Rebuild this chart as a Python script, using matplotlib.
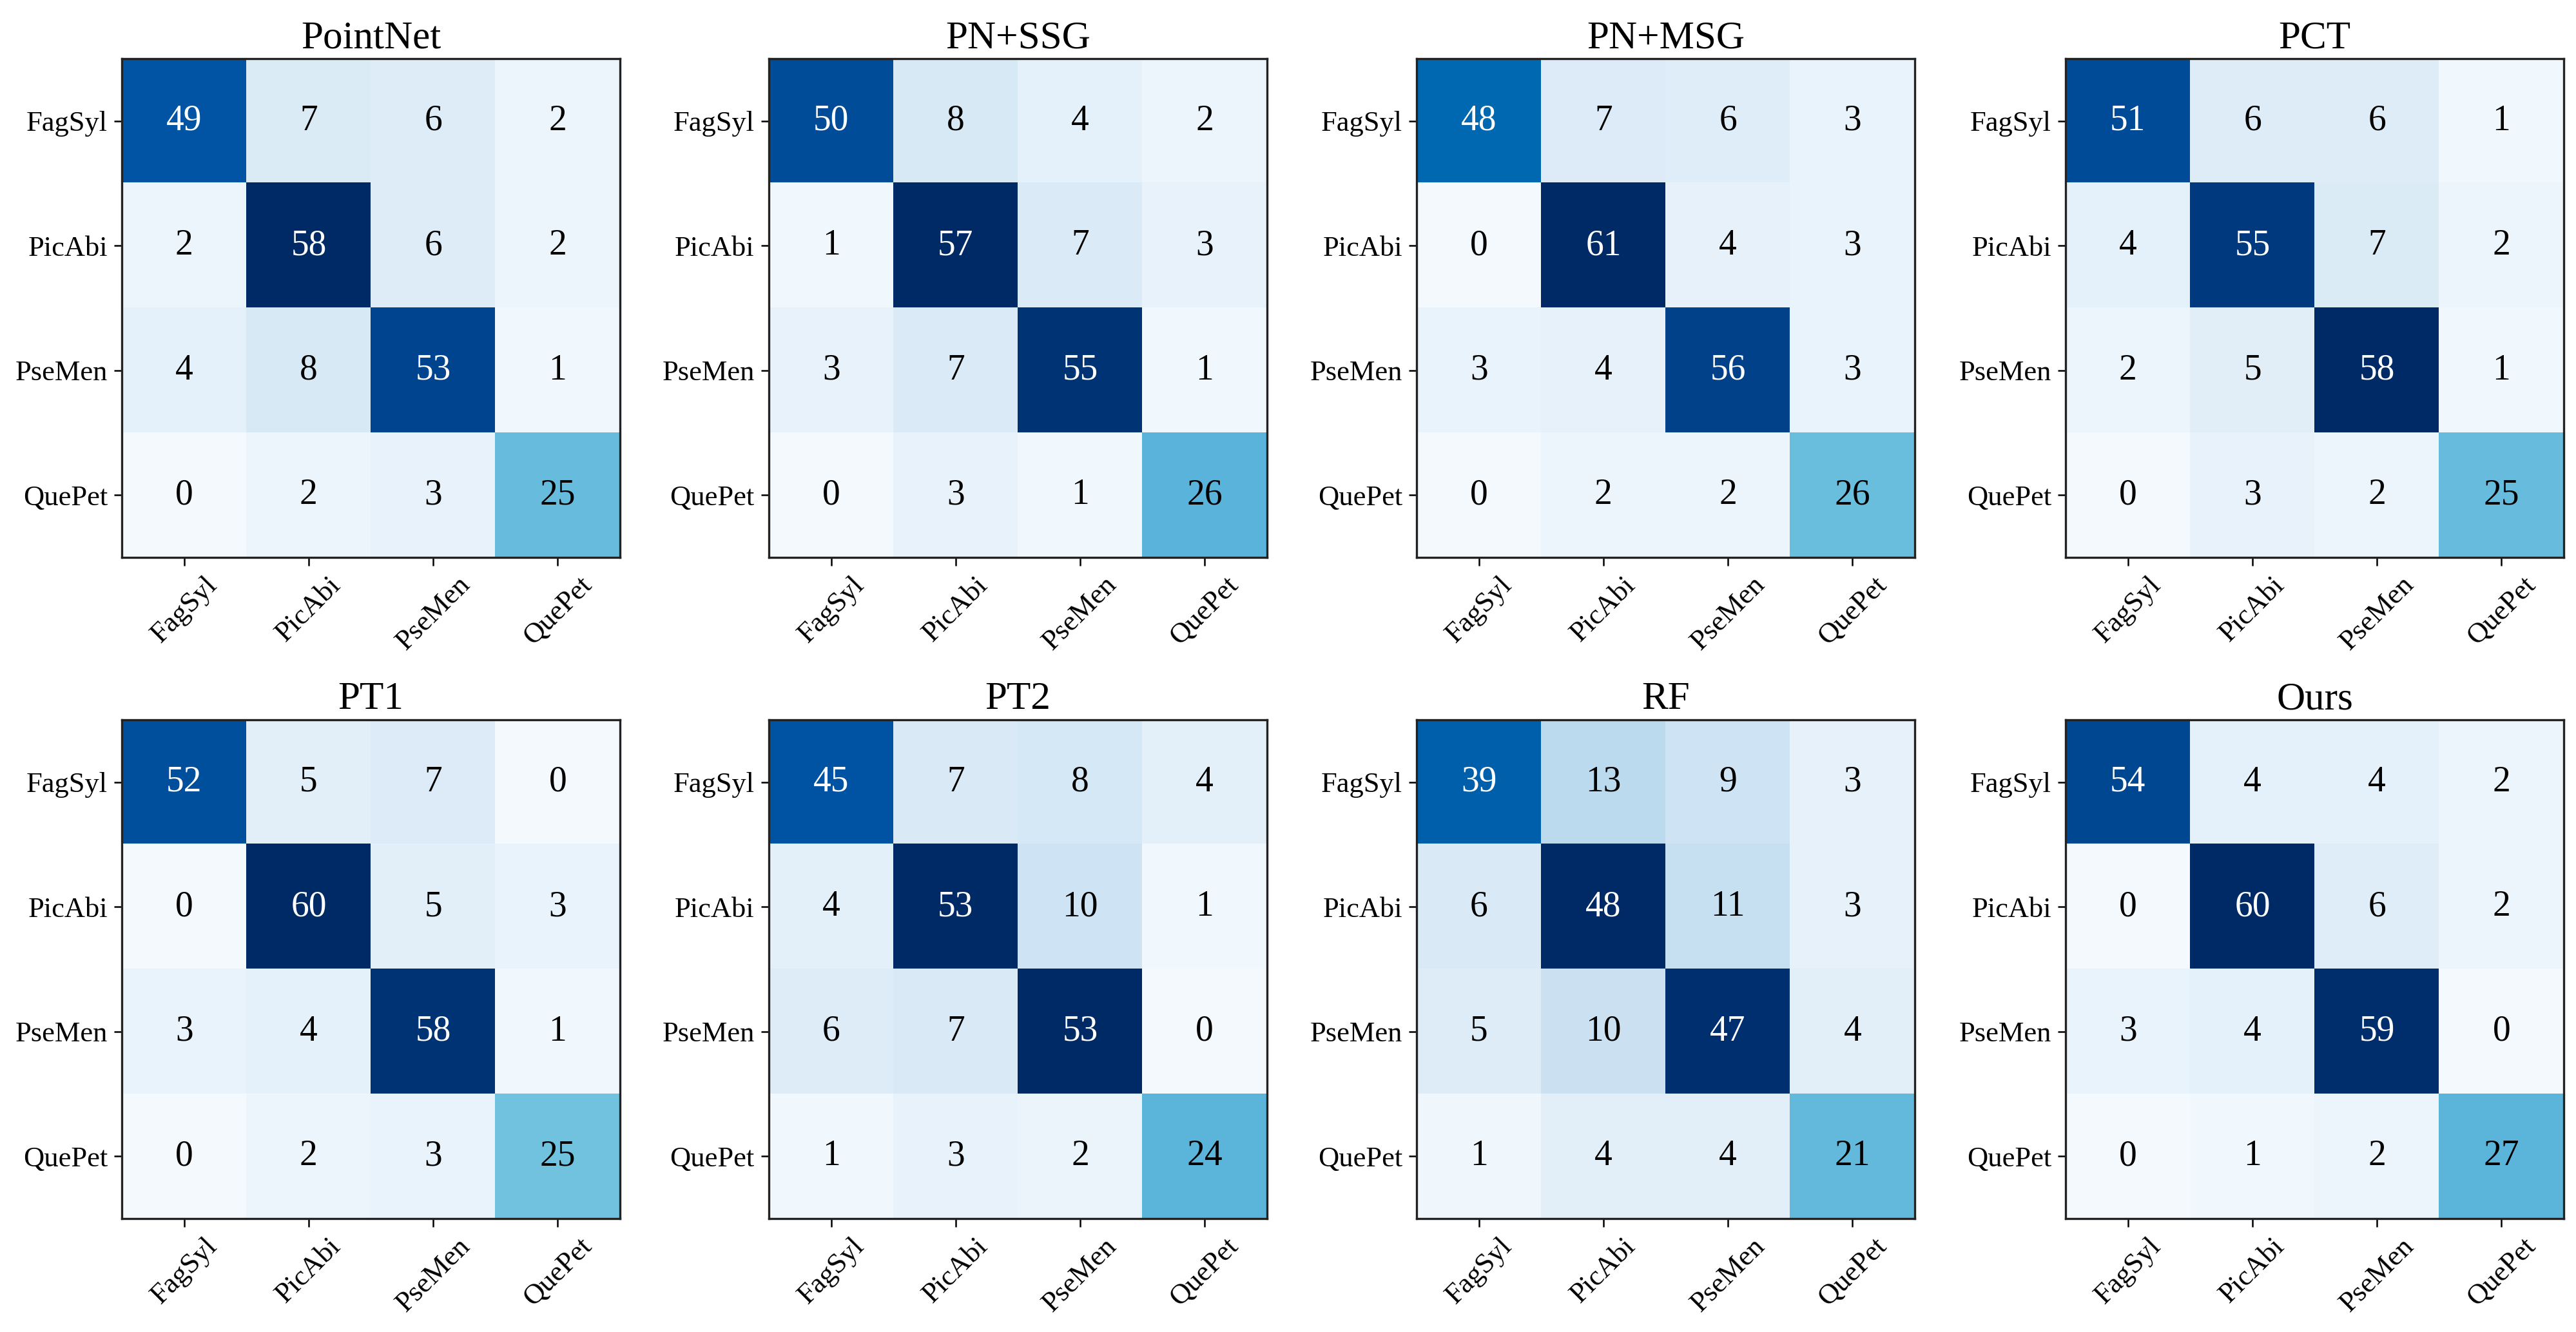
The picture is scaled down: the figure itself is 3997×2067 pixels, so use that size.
import numpy as np
import matplotlib
matplotlib.use("Agg")
import matplotlib.pyplot as plt
from matplotlib.colors import LinearSegmentedColormap

plt.rcParams['font.family'] = ['Liberation Serif', 'DejaVu Serif']

# --- Data ---
classes = ["FagSyl", "PicAbi", "PseMen", "QuePet"]
titles = ["PointNet", "PN+SSG", "PN+MSG", "PCT", "PT1", "PT2", "RF", "Ours"]

cm_pointnet = [[49, 7, 6, 2], [2, 58, 6, 2], [4, 8, 53, 1], [0, 2, 3, 25]]
cm_pn_ssg = [[50, 8, 4, 2], [1, 57, 7, 3], [3, 7, 55, 1], [0, 3, 1, 26]]
cm_pn_msg = [[48, 7, 6, 3], [0, 61, 4, 3], [3, 4, 56, 3], [0, 2, 2, 26]]
cm_pct = [[51, 6, 6, 1], [4, 55, 7, 2], [2, 5, 58, 1], [0, 3, 2, 25]]
cm_pt1 = [[52, 5, 7, 0], [0, 60, 5, 3], [3, 4, 58, 1], [0, 2, 3, 25]]
cm_pt2 = [[45, 7, 8, 4], [4, 53, 10, 1], [6, 7, 53, 0], [1, 3, 2, 24]]
cm_rf = [[39, 13, 9, 3], [6, 48, 11, 3], [5, 10, 47, 4], [1, 4, 4, 21]]
cm_ours = [[54, 4, 4, 2], [0, 60, 6, 2], [3, 4, 59, 0], [0, 1, 2, 27]]

matrices = [cm_pointnet, cm_pn_ssg, cm_pn_msg, cm_pct,
            cm_pt1, cm_pt2, cm_rf, cm_ours]

# blue colormap
cmap = LinearSegmentedColormap.from_list("cm_blues", [
    (0.00, "#f4f9fe"), (0.05, "#e9f3fb"), (0.10, "#dfedf8"),
    (0.15, "#d5e8f5"), (0.21, "#cbe1f2"), (0.27, "#bddbef"),
    (0.417, "#70c2df"), (0.45, "#5cb5db"), (0.79, "#0068b0"),
    (0.85, "#0054a3"), (0.91, "#004590"), (1.00, "#002a66")])

fig = plt.figure(figsize=(19.99, 10.335), dpi=200)

lefts = [0.0473, 0.2984, 0.5498, 0.8017]
bottoms = [0.5815, 0.0851]
w, h = 0.1933, 0.3745

for k, (title, cm) in enumerate(zip(titles, matrices)):
    cm = np.array(cm)
    ax = fig.add_axes([lefts[k % 4], bottoms[k // 4], w, h])
    vmax = cm.max()
    ax.imshow(cm, cmap=cmap, vmin=0, vmax=vmax, aspect="auto",
              interpolation="nearest")
    for i in range(4):
        for j in range(4):
            col = "white" if cm[i, j] > vmax / 2 else "black"
            ax.text(j, i, str(cm[i, j]), ha="center", va="center",
                    fontsize=20, color=col)
    ax.set_xticks(range(4))
    ax.set_yticks(range(4))
    ax.set_xticklabels(classes, rotation=45, ha="center", fontsize=16)
    ax.set_yticklabels(classes, fontsize=16)
    ax.tick_params(length=4.5, width=0.9, pad=3.5)
    ax.set_title(title, fontsize=22, pad=6)
    for sp in ax.spines.values():
        sp.set_linewidth(1.2)
        sp.set_color("#222222")

fig.savefig("out.png", dpi=200)
